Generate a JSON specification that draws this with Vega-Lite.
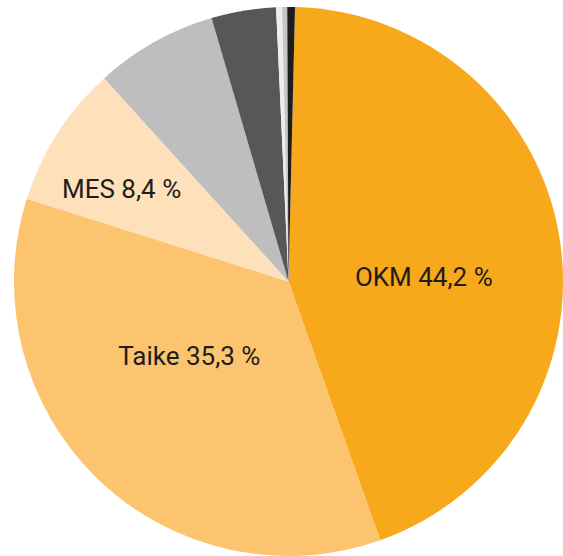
{
  "$schema": "https://vega.github.io/schema/vega-lite/v6.json",
  "width": 563,
  "height": 556,
  "autosize": "none",
  "padding": 0,
  "background": "white",
  "config": {"view": {"stroke": null}},
  "data": {"values": [
    {"order": 1, "name": "OKM", "value": 44.2, "label": "OKM 44,2 %"},
    {"order": 2, "name": "Taike", "value": 35.3, "label": "Taike 35,3 %"},
    {"order": 3, "name": "MES", "value": 8.4, "label": "MES 8,4 %"},
    {"order": 4, "name": "Muu1", "value": 7.2, "label": ""},
    {"order": 5, "name": "Muu2", "value": 3.8, "label": ""},
    {"order": 6, "name": "Muu3", "value": 0.35, "label": ""},
    {"order": 7, "name": "Muu4", "value": 0.3, "label": ""},
    {"order": 8, "name": "Muu5", "value": 0.45, "label": ""}
  ]},
  "encoding": {
    "theta": {"field": "value", "type": "quantitative", "stack": true, "scale": {"range": [0.0237, 6.3069]}},
    "order": {"field": "order", "type": "quantitative"}
  },
  "layer": [
    {
      "mark": {"type": "arc", "outerRadius": 274.5, "x": 288.5, "y": 281.5},
      "encoding": {
        "color": {
          "field": "name", "type": "nominal", "legend": null,
          "scale": {
            "domain": ["OKM", "Taike", "MES", "Muu1", "Muu2", "Muu3", "Muu4", "Muu5"],
            "range": ["#F7A81B", "#FCC46F", "#FEE1BA", "#BEBEBE", "#575756", "#EDEDED", "#C6C6C6", "#1D1D1B"]
          }
        }
      }
    },
    {
      "mark": {"type": "text", "x": 288.5, "y": 281.5, "radius": 137, "dx": 0, "dy": 18, "font": "Roboto", "fontSize": 26, "color": "#1D1D1B", "align": "center", "baseline": "middle"},
      "encoding": {"text": {"condition": {"test": "datum.name === 'OKM'", "field": "label"}, "value": ""}}
    },
    {
      "mark": {"type": "text", "x": 288.5, "y": 281.5, "radius": 124, "dx": -13, "dy": -14, "font": "Roboto", "fontSize": 26, "color": "#1D1D1B", "align": "center", "baseline": "middle"},
      "encoding": {"text": {"condition": {"test": "datum.name === 'Taike'", "field": "label"}, "value": ""}}
    },
    {
      "mark": {"type": "text", "x": 288.5, "y": 281.5, "radius": 190, "dx": -7, "dy": 11, "font": "Roboto", "fontSize": 26, "color": "#1D1D1B", "align": "center", "baseline": "middle"},
      "encoding": {"text": {"condition": {"test": "datum.name === 'MES'", "field": "label"}, "value": ""}}
    }
  ]
}
